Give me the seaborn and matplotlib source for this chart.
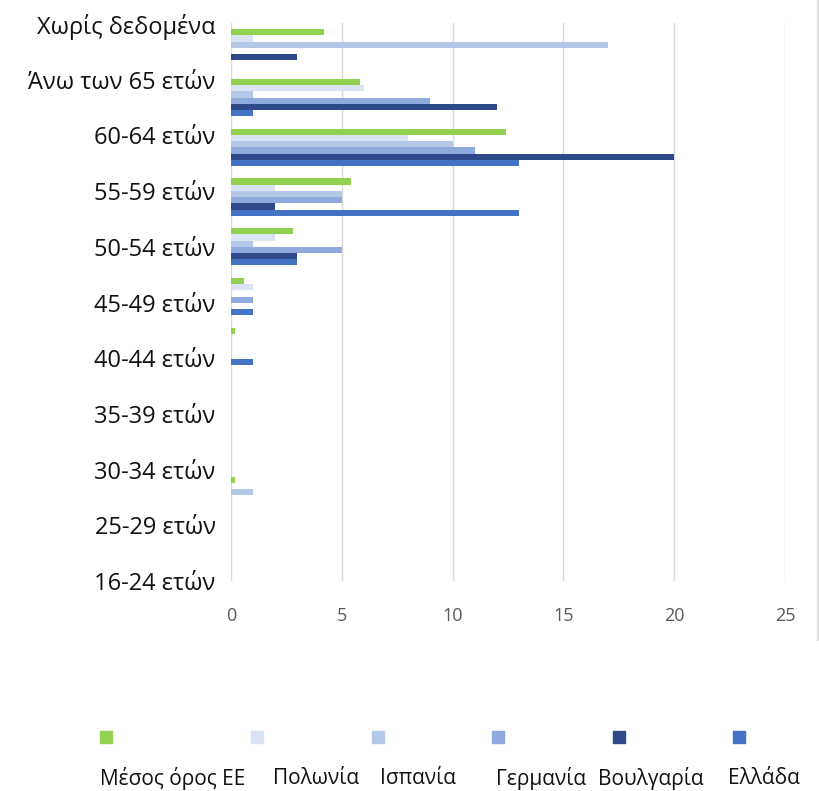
import numpy as np
import pandas as pd
import matplotlib
matplotlib.use("Agg")
import matplotlib.pyplot as plt
from matplotlib.patches import Rectangle
from matplotlib.lines import Line2D
import seaborn as sns

sns.set_style("white")
plt.rcParams['font.family'] = ['Open Sans', 'DejaVu Sans']

# age groups, top to bottom
categories = ['Χωρίς δεδομένα', 'Άνω των 65 ετών', '60-64 ετών', '55-59 ετών',
              '50-54 ετών', '45-49 ετών', '40-44 ετών', '35-39 ετών',
              '30-34 ετών', '25-29 ετών', '16-24 ετών']

series = ['Μέσος όρος ΕΕ', 'Πολωνία', 'Ισπανία', 'Γερμανία', 'Βουλγαρία', 'Ελλάδα']

eu_avg   = [4.2, 5.8, 12.4, 5.4, 2.8, 0.6, 0.2, 0, 0, 0.2, 0]
poland   = [1, 6, 8, 2, 2, 1, 0, 0, 0, 0, 0]
spain    = [17, 1, 10, 5, 1, 0, 0, 0, 0, 1, 0]
germany  = [0, 9, 11, 5, 5, 1, 0, 0, 0, 0, 0]
bulgaria = [3, 12, 20, 2, 3, 0, 0, 0, 0, 0, 0]
greece   = [0, 1, 13, 13, 3, 1, 1, 0, 0, 0, 0]

colors = ['#92d050', '#dae3f3', '#b4c7e7', '#8faadc', '#2f4a8a', '#4472c4']

values = [eu_avg, poland, spain, germany, bulgaria, greece]
rows = []
for name, vals in zip(series, values):
    for cat, v in zip(categories, vals):
        rows.append({'cat': cat, 'series': name, 'value': v})
df = pd.DataFrame(rows)

fig = plt.figure(figsize=(8.2, 7.91), dpi=100)
ax = fig.add_axes([0.2817, 0.2655, 0.6756, 0.7054])

sns.barplot(data=df, y='cat', x='value', hue='series', order=categories,
            hue_order=series, palette=colors, orient='h', width=0.75,
            dodge=True, legend=False, ax=ax, saturation=1, linewidth=0)

ax.set_xlim(0, 25)
ax.set_ylim(10.5, -0.5)
ax.set_xticks([0, 5, 10, 15, 20, 25])
ax.xaxis.grid(True, color='#d9d9d9', lw=1)
ax.set_axisbelow(True)
for s in ax.spines.values():
    s.set_visible(False)
ax.set_xlabel('')
ax.set_ylabel('')

# category labels are spread a bit wider than the bar groups in the original
ax.set_yticks(np.linspace(-0.48, 10.72, len(categories)), labels=categories)
ax.tick_params(axis='y', length=0, pad=11, labelsize=17, labelcolor='#111111')
ax.tick_params(axis='x', length=0, pad=19, labelsize=13, labelcolor='#595959')

# legend: squares on one row, names on the row below
mark_x = [106, 257, 378, 498, 619, 739]
text_x = [173, 316, 418, 541, 651, 764]
for mx, tx, name, c in zip(mark_x, text_x, series, colors):
    fig.add_artist(Rectangle(((mx - 6) / 820, 1 - 743 / 791), 12 / 820, 12 / 791,
                             transform=fig.transFigure, color=c))
    fig.text(tx / 820, 1 - 778 / 791, name, ha='center', va='center',
             fontsize=15, color='#111111')

fig.add_artist(Line2D([818 / 820, 818 / 820], [1 - 640 / 791, 1.0],
                      transform=fig.transFigure, color='#e0e0e0', lw=1.5))

fig.savefig('out.png', dpi=100)
